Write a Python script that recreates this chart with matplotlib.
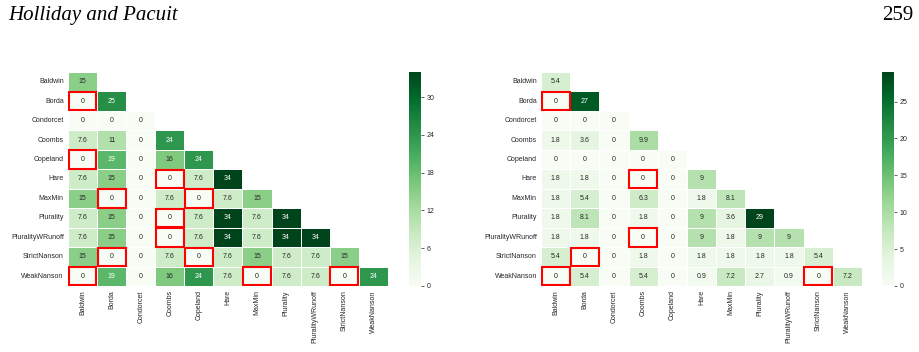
import numpy as np
import matplotlib
matplotlib.use('Agg')
import matplotlib.pyplot as plt
import seaborn as sns
from matplotlib.patches import Rectangle

methods = ['Baldwin', 'Borda', 'Condorcet', 'Coombs', 'Copeland', 'Hare',
           'MaxMin', 'Plurality', 'PluralityWRunoff', 'StrictNanson', 'WeakNanson']

# lower triangle rows (incl. diagonal), left panel
left_rows = [
    [15],
    [0, 25],
    [0, 0, 0],
    [7.6, 11, 0, 24],
    [0, 19, 0, 16, 24],
    [7.6, 15, 0, 0, 7.6, 34],
    [15, 0, 0, 7.6, 0, 7.6, 15],
    [7.6, 15, 0, 0, 7.6, 34, 7.6, 34],
    [7.6, 15, 0, 0, 7.6, 34, 7.6, 34, 34],
    [15, 0, 0, 7.6, 0, 7.6, 15, 7.6, 7.6, 15],
    [0, 19, 0, 16, 24, 7.6, 0, 7.6, 7.6, 0, 24],
]
left_boxes = [(1, 0), (4, 0), (5, 3), (6, 1), (6, 4), (7, 3), (8, 3),
              (9, 1), (9, 4), (10, 0), (10, 6), (10, 9)]
left_ticks = [0, 6, 12, 18, 24, 30]

# right panel
right_rows = [
    [5.4],
    [0, 27],
    [0, 0, 0],
    [1.8, 3.6, 0, 9.9],
    [0, 0, 0, 0, 0],
    [1.8, 1.8, 0, 0, 0, 9],
    [1.8, 5.4, 0, 6.3, 0, 1.8, 8.1],
    [1.8, 8.1, 0, 1.8, 0, 9, 3.6, 29],
    [1.8, 1.8, 0, 0, 0, 9, 1.8, 9, 9],
    [5.4, 0, 0, 1.8, 0, 1.8, 1.8, 1.8, 1.8, 5.4],
    [0, 5.4, 0, 5.4, 0, 0.9, 7.2, 2.7, 0.9, 0, 7.2],
]
right_boxes = [(1, 0), (5, 3), (8, 3), (9, 1), (10, 0), (10, 9)]
right_ticks = [0, 5, 10, 15, 20, 25]


def to_matrix(rows):
    n = len(rows)
    m = np.full((n, n), np.nan)
    for i, r in enumerate(rows):
        m[i, :len(r)] = r
    return m


plt.rcParams['font.family'] = ['Liberation Sans', 'DejaVu Sans']
fig = plt.figure(figsize=(9.19, 3.52), dpi=100)

ax_l = fig.add_axes([0.074, 0.1875, 0.348, 0.608])
cax_l = fig.add_axes([0.445, 0.1875, 0.013, 0.608])
ax_r = fig.add_axes([0.5887, 0.1875, 0.3493, 0.608])
cax_r = fig.add_axes([0.9597, 0.1875, 0.013, 0.608])

panels = [(ax_l, cax_l, left_rows, left_boxes, left_ticks),
          (ax_r, cax_r, right_rows, right_boxes, right_ticks)]

for ax, cax, rows, boxes, ticks in panels:
    mat = to_matrix(rows)
    mask = np.isnan(mat)
    sns.heatmap(mat, mask=mask, cmap='Greens', vmin=0, vmax=np.nanmax(mat),
                annot=True, fmt='.2g', annot_kws={'size': 5},
                linewidths=0.6, linecolor='white', ax=ax, cbar_ax=cax,
                xticklabels=methods, yticklabels=methods)
    # highlighted cells
    for (i, j) in boxes:
        ax.add_patch(Rectangle((j + 0.02, i + 0.03), 0.96, 0.94, fill=False,
                               edgecolor='red', linewidth=1.5, zorder=5))
    ax.tick_params(length=0, labelsize=5, colors='#262626', pad=3)
    ax.set_xticklabels(methods, rotation=90)
    ax.set_yticklabels(methods, rotation=0)
    cax.set_yticks(ticks)
    cax.tick_params(labelsize=5, length=2, width=0.5, colors='#262626', pad=2)
    for sp in cax.spines.values():
        sp.set_visible(False)

fig.text(0.009, 0.943, 'Holliday and Pacuit', family='Liberation Serif',
         style='italic', fontsize=15, ha='left', va='baseline')
fig.text(0.9935, 0.943, '259', family='Liberation Serif',
         fontsize=15, ha='right', va='baseline')

fig.savefig('out.png', dpi=100)
